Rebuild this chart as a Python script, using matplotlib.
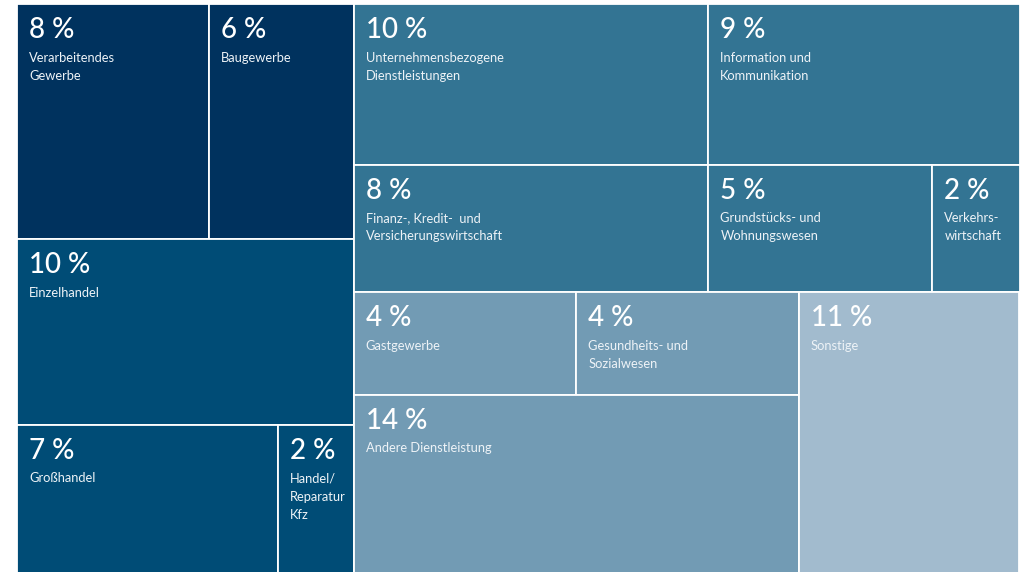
import matplotlib
matplotlib.use("Agg")
import matplotlib.pyplot as plt
from matplotlib.patches import Rectangle

# ---- data ----
categories = [
    "Verarbeitendes\nGewerbe", "Baugewerbe", "Einzelhandel", "Großhandel",
    "Handel/\nReparatur\nKfz", "Unternehmensbezogene\nDienstleistungen",
    "Information und\nKommunikation", "Finanz-, Kredit-  und\nVersicherungswirtschaft",
    "Grundstücks- und\nWohnungswesen", "Verkehrs-\nwirtschaft", "Gastgewerbe",
    "Gesundheits- und\nSozialwesen", "Andere Dienstleistung", "Sonstige",
]
shares = [8, 6, 10, 7, 2, 10, 9, 8, 5, 2, 4, 4, 14, 11]          # printed labels
areas = [7.92, 5.96, 10.96, 6.79, 1.96, 9.98, 8.76, 7.94, 5.01, 1.95,
         4.01, 4.01, 13.89, 10.87]                                # tile areas
color_group = [0, 0, 1, 1, 1, 2, 2, 2, 2, 2, 3, 3, 3, 4]

# ---- styles / layout ----
palette = ["#00325e", "#004c76", "#337493", "#729bb4", "#a2bbce"]
# nested slice-and-dice structure ('h' = side by side, 'v' = stacked)
tree = ("h", [
    ("v", [("h", [0, 1]), 2, ("h", [3, 4])]),
    ("v", [("h", [5, 6]), ("h", [7, 8, 9]),
           ("h", [("v", [("h", [10, 11]), 12]), 13])]),
])


def total(node):
    if isinstance(node, int):
        return areas[node]
    return sum(total(c) for c in node[1])


rects = {}


def layout(node, x, y, w, h):
    if isinstance(node, int):
        rects[node] = (x, y, w, h)
        return
    d, kids = node
    s = total(node)
    pos = x if d == "h" else y
    for k in kids:
        f = total(k) / s
        if d == "h":
            layout(k, pos, y, w * f, h)
            pos += w * f
        else:
            layout(k, x, pos, w, h * f)
            pos += h * f


X0, Y0, X1, Y1 = 17, 4, 1019.5, 573
layout(tree, X0, Y0, X1 - X0, Y1 - Y0)

plt.rcParams["font.family"] = ["Lato", "DejaVu Sans"]
fig = plt.figure(figsize=(10.25, 5.72), dpi=100)
ax = fig.add_axes([0, 0, 1, 1])
ax.set_xlim(0, 1025)
ax.set_ylim(572, 0)
ax.axis("off")

for i, (x, y, w, h) in rects.items():
    ax.add_patch(Rectangle((x, y), w, h, facecolor=palette[color_group[i]],
                           edgecolor="white", linewidth=1.3))
    ax.text(x + 12, y + 34, f"{shares[i]} %", color="white", fontsize=20,
            fontweight="medium", ha="left", va="baseline")
    for k, line in enumerate(categories[i].split("\n")):
        ax.text(x + 12, y + 57.5 + 18.3 * k, line, color="#eef3f7", fontsize=9.3,
                ha="left", va="baseline")

fig.savefig("out.png", dpi=100)
